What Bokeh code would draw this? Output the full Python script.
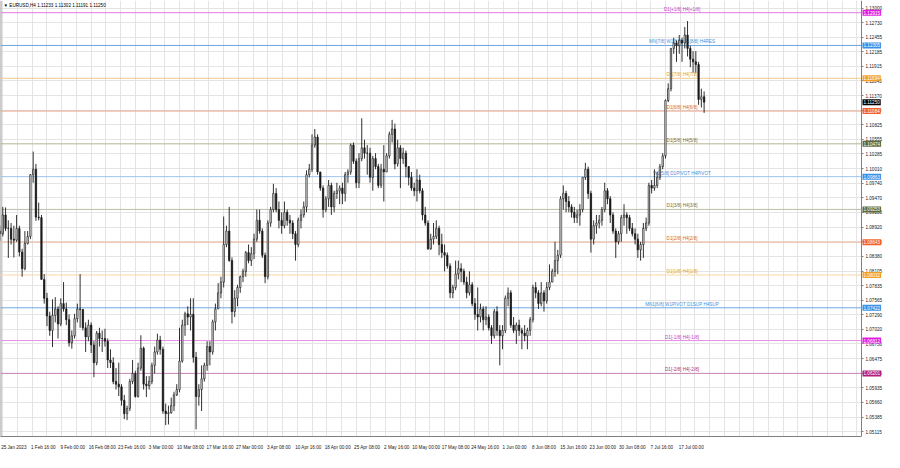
from bokeh.plotting import figure
from bokeh.models import Range1d, FixedTicker, Span, Label, ColumnDataSource, PrintfTickFormatter
from bokeh.core.properties import value
from bokeh.embed import file_html
from bokeh.resources import INLINE

# ---------------- data ----------------
symbol = "EURUSD,H4"
last_bar = [1.11233, 1.11302, 1.11191, 1.11250]   # O H L C of the last H4 bar

# half-day candles (two per trading day, 25 Jan - 21 Jul 2023), in pips above 1.0000
opens = [885,880, 915,890, 890,870, 868,890, 846,815,
         862,875, 990,1000, 911,910, 795,760, 727,700,
         728,740, 712,750, 740,720, 677,690, 722,740,
         739,705, 688,710, 673,640, 695,685, 685,680,
         645,640, 605,600, 595,570, 545,555, 605,620,
         577,630, 667,600, 597,605, 635,660, 682,665,
         550,545, 547,560, 580,590, 643,710, 731,725,
         730,650, 577,590, 610,635, 670,660, 716,740,
         770,790, 860,885, 830,735, 760,780, 800,810,
         845,830, 843,870, 905,885, 840,800, 900,925,
         955,925, 905,895, 920,905, 900,880, 860,905,
         915,930, 990,1000, 1045,1060, 995,965, 925,945,
         970,930, 955,960, 965,955, 990,995, 1045,1015,
         975,1020, 1040,1030, 1030,985, 1020,1005, 970,1000,
         995,1025, 1065,1075, 1010,1040, 1020,1030, 1005,985,
         965,960, 980,960, 915,900, 852,870, 875,890,
         860,845, 840,820, 770,780, 805,815, 810,790,
         770,785, 750,730, 725,740, 720,725, 705,690,
         735,700, 690,700, 760,770, 710,700, 710,700,
         695,690, 700,720, 780,770, 750,770, 755,780,
         790,810, 830,840, 945,955, 940,930, 920,910,
         915,925, 985,1000, 955,870, 895,900, 905,925,
         960,945, 915,885, 865,880, 910,915, 910,890,
         880,870, 850,860, 890,900, 970,965, 970,985,
         1005,1025, 1128,1150, 1225,1235, 1230,1240, 1235,1250,
         1225,1205, 1200,1195, 1130,1135]
highs = [895,930, 929,905, 900,895, 915,895, 852,885,
         885,991, 1033,1010, 938,915, 805,770, 735,758,
         762,745, 760,790, 752,730, 700,731, 750,805,
         740,715, 720,715, 680,699, 705,700, 703,685,
         665,650, 630,640, 600,580, 560,610, 645,625,
         640,691, 670,615, 615,640, 670,694, 690,670,
         564,560, 575,586, 600,705, 720,735, 745,760,
         760,660, 600,635, 640,680, 680,720, 750,788,
         800,912, 895,930, 836,775, 785,802, 815,848,
         860,855, 880,925, 925,890, 845,905, 930,973,
         965,940, 920,940, 925,915, 905,885, 910,925,
         940,998, 1010,1065, 1075,1065, 995,970, 950,980,
         975,960, 975,970, 975,995, 1000,1048, 1050,1020,
         1030,1095, 1055,1045, 1040,1025, 1030,1010, 1010,1045,
         1030,1070, 1092,1085, 1055,1045, 1040,1035, 1005,995,
         975,1000, 990,965, 930,905, 880,900, 905,895,
         880,860, 845,825, 785,830, 830,825, 815,800,
         810,790, 760,780, 750,745, 745,730, 710,740,
         745,710, 710,765, 780,775, 725,715, 720,705,
         710,705, 725,785, 790,775, 790,775, 790,823,
         815,865, 850,950, 970,960, 950,935, 930,925,
         935,985, 1012,1005, 960,905, 915,915, 930,975,
         965,950, 920,890, 885,915, 935,920, 915,900,
         890,880, 865,900, 910,975, 980,1000, 995,1010,
         1030,1130, 1160,1225, 1245,1240, 1250,1245, 1265,1276,
         1230,1220, 1220,1200, 1150,1145]
lows = [867,875, 885,835, 860,836, 865,838, 800,812,
        860,870, 975,904, 905,795, 750,708, 690,669,
        715,685, 708,735, 710,670, 666,685, 715,705,
        700,660, 680,658, 613,635, 670,660, 670,630,
        630,600, 590,578, 560,535, 533,550, 600,575,
        575,625, 590,576, 590,600, 620,655, 655,545,
        524,525, 545,550, 578,585, 640,690, 710,700,
        640,516, 560,550, 605,625, 635,655, 700,740,
        760,780, 855,828, 713,725, 745,770, 790,800,
        825,820, 833,865, 880,835, 788,795, 893,920,
        920,890, 880,890, 895,880, 870,830, 855,890,
        910,920, 985,995, 1040,990, 960,910, 920,930,
        915,920, 945,935, 935,940, 975,990, 1010,965,
        965,1015, 1020,990, 975,960, 1000,965, 965,940,
        995,1020, 1050,1000, 1005,965, 1010,985, 970,960,
        950,940, 955,905, 895,850, 850,860, 870,840,
        835,810, 815,760, 760,775, 795,790, 785,760,
        765,745, 720,700, 715,700, 710,700, 675,685,
        690,635, 665,695, 745,705, 695,675, 690,665,
        680,665, 690,715, 760,740, 745,735, 750,775,
        790,800, 805,835, 925,920, 920,910, 900,900,
        895,920, 980,945, 845,860, 880,890, 895,920,
        935,900, 880,835, 860,865, 895,880, 885,875,
        860,835, 830,835, 885,895, 955,960, 965,980,
        1000,1020, 1125,1145, 1215,1200, 1215,1200, 1225,1210,
        1190,1180, 1180,1120, 1115,1105]
closes = [880,915, 890,890, 870,868, 890,846, 815,862,
          875,990, 1000,911, 910,795, 760,727, 700,728,
          740,712, 750,740, 720,677, 690,722, 740,739,
          705,688, 710,673, 640,695, 685,685, 680,645,
          640,605, 600,595, 570,545, 555,605, 620,577,
          630,667, 600,597, 605,635, 660,682, 665,550,
          545,547, 560,580, 590,643, 710,731, 725,730,
          650,577, 590,610, 635,670, 660,716, 740,770,
          790,860, 885,830, 735,760, 780,800, 810,845,
          830,843, 870,905, 885,840, 800,900, 925,955,
          925,905, 895,920, 905,900, 880,860, 905,915,
          930,990, 1000,1045, 1060,995, 965,925, 945,970,
          930,955, 960,965, 955,990, 995,1045, 1015,975,
          1020,1040, 1030,1030, 985,1020, 1005,970, 1000,995,
          1025,1065, 1075,1010, 1040,1020, 1030,1005, 985,965,
          960,980, 960,915, 900,852, 870,875, 890,860,
          845,840, 820,770, 780,805, 815,810, 790,770,
          785,750, 730,725, 740,720, 725,705, 690,735,
          700,690, 700,760, 770,710, 700,710, 700,695,
          690,700, 720,780, 770,750, 770,755, 780,790,
          810,830, 840,945, 955,940, 930,920, 910,915,
          925,985, 1000,955, 870,895, 900,905, 925,960,
          945,915, 885,865, 880,910, 915,910, 890,880,
          870,850, 860,890, 900,970, 965,970, 985,1005,
          1025,1128, 1150,1225, 1235,1230, 1240,1235, 1250,1225,
          1205,1200, 1195,1130, 1135,1125]

# Murrey-math style levels drawn on the chart
levels = [1.12915, 1.12305, 1.11694, 1.11084, 1.10474, 1.09863,
          1.09253, 1.08643, 1.08032, 1.07422, 1.06812, 1.06201]
level_names = ["D1[+1/8] H4[+1/8]", "MN[7/8] W1[6/8] D1[8/8] H4RES", "D1[7/8] H4[7/8]",
               "D1[6/8] H4[6/8]", "D1[5/8] H4[5/8]", "W1[5/8] D1PIVOT H4PIVOT",
               "D1[3/8] H4[3/8]", "D1[2/8] H4[2/8]", "D1[1/8] H4[1/8]",
               "MN1[6/8] W1PIVOT D1SUP H4SUP", "D1[-1/8] H4[-1/8]", "D1[-2/8] H4[-2/8]"]

# axis tick values / labels
y_ticks = [1.13000, 1.12730, 1.12455, 1.12185, 1.11915, 1.11645, 1.11370, 1.11100,
           1.10825, 1.10555, 1.10285, 1.10010, 1.09740, 1.09470, 1.09200, 1.08920,
           1.08650, 1.08380, 1.08105, 1.07835, 1.07565, 1.07290, 1.07020, 1.06750,
           1.06475, 1.06205, 1.05935, 1.05660, 1.05385, 1.05115]
x_labels = ["25 Jan 2023", "1 Feb 16:00", "9 Feb 00:00", "16 Feb 08:00", "23 Feb 16:00",
            "3 Mar 00:00", "10 Mar 08:00", "17 Mar 16:00", "27 Mar 00:00", "3 Apr 08:00",
            "10 Apr 16:00", "18 Apr 00:00", "25 Apr 08:00", "2 May 16:00", "10 May 00:00",
            "17 May 08:00", "24 May 16:00", "1 Jun 00:00", "8 Jun 08:00", "15 Jun 16:00",
            "23 Jun 00:00", "30 Jun 08:00", "7 Jul 16:00", "17 Jul 00:00"]

# ---------------- styles ----------------
line_colors = ["#e27ae2", "#6aa6e2", "#f3c98e", "#eaa48a", "#b4b496", "#9cc4ee",
               "#bcbca6", "#f0b496", "#f7d7a4", "#6fa8e2", "#e68fe6", "#c886b4"]
text_colors = ["#c040c8", "#4a90d8", "#e0a040", "#d8643a", "#70704c", "#4a90d8",
               "#70704c", "#d8643a", "#e0a040", "#4a90d8", "#c040c8", "#a8307a"]
tag_colors = ["#e01ee0", "#3a8fe6", "#f2a024", "#f2602a", "#5c6a3c", "#3a8fe6",
              "#5c6a3c", "#f2602a", "#f2a024", "#3a8fe6", "#e01ee0", "#b0207a"]
FONT = "Liberation Sans"
FS = "4.6px"
BARS_PER_LABEL = 32
BARS_PER_GRID = 16
LEVEL_LABEL_X = 740          # bar index where level captions are centred
X_START, AXIS_X, X_END = -0.5, 935, 960   # chart area ends at AXIS_X, price scale beyond
Y_START, Y_END = 1.05026, 1.13142

# ---------------- build ----------------
n = len(opens)
xs = [6 * (i // 2) - 1 + 3 * (i % 2) for i in range(n)]   # centre bar index of each half-day group
o = [1 + v / 10000 for v in opens]
h = [1 + v / 10000 for v in highs]
l = [1 + v / 10000 for v in lows]
c = [1 + v / 10000 for v in closes]
src = ColumnDataSource(dict(
    x=xs, o=o, h=h, l=l, c=c,
    top=[max(a, b) for a, b in zip(o, c)],
    bottom=[min(a, b) for a, b in zip(o, c)],
    fill=["#ffffff" if b >= a else "#1a1a1a" for a, b in zip(o, c)],
))

p = figure(width=884, height=452, output_backend="svg", toolbar_location=None,
           x_range=Range1d(X_START, X_END), y_range=Range1d(Y_START, Y_END),
           y_axis_location="right", min_border_left=0, min_border_right=0,
           min_border_top=0, min_border_bottom=11)
p.background_fill_color = "#ffffff"
p.border_fill_color = "#ffffff"
p.outline_line_color = None

# grid
p.xgrid.ticker = FixedTicker(ticks=[BARS_PER_GRID * k + 2 for k in range(59)])
p.xgrid.grid_line_color = "#e4e4e4"
p.ygrid.grid_line_color = "#e4e4e4"

# right price axis, drawn at the right edge of the chart area
p.yaxis.fixed_location = AXIS_X
p.yaxis.ticker = FixedTicker(ticks=y_ticks)
p.yaxis.formatter = PrintfTickFormatter(format="%.5f")
p.yaxis.major_label_text_font = FONT
p.yaxis.major_label_text_font_size = FS
p.yaxis.major_label_text_color = "#202020"
p.yaxis.major_tick_out = 2
p.yaxis.major_tick_in = 0
p.yaxis.minor_tick_line_color = None
p.yaxis.major_tick_line_color = "#808080"
p.yaxis.axis_line_color = "#808080"
p.yaxis.major_label_standoff = 2

# bottom time axis (labels start at their bar, as in the terminal)
label_pos = [BARS_PER_LABEL * k + 14 for k in range(len(x_labels))]
p.xaxis.ticker = FixedTicker(ticks=label_pos)
p.xaxis.bounds = (X_START, AXIS_X)
p.xaxis.major_label_overrides = {pos: txt for pos, txt in zip(label_pos, x_labels)}
p.xaxis.major_label_text_font = FONT
p.xaxis.major_label_text_font_size = FS
p.xaxis.major_label_text_color = "#202020"
p.xaxis.major_tick_line_color = None
p.xaxis.minor_tick_line_color = None
p.xaxis.axis_line_color = "#808080"
p.xaxis.major_label_standoff = 2

# left border
p.add_layout(Span(location=X_START, dimension="height", line_color="#9a9a9a", line_width=2, level="underlay"))

# level lines (behind the candles)
for lv, lc in zip(levels, line_colors):
    p.add_layout(Span(location=lv, dimension="width", line_color=lc, line_width=1, level="underlay"))

# blank price-scale strip (hides grid and level lines right of the chart area)
p.quad(left=[AXIS_X], right=[X_END], bottom=[Y_START], top=[Y_END],
       fill_color="#ffffff", line_color=None)

p.text(x=[LEVEL_LABEL_X] * len(levels), y=levels, text=level_names, text_color=text_colors,
       text_align="center", text_baseline="bottom", text_font=value(FONT),
       text_font_size=FS, y_offset=-1)

# candles
p.segment(x0="x", y0="l", x1="x", y1="h", source=src, line_color="#1a1a1a", line_width=0.9)
p.vbar(x="x", width=1.5, top="top", bottom="bottom", source=src,
       fill_color="fill", line_color="#1a1a1a", line_width=0.7)

# price tags on the right scale
for lv, tc in zip(levels, tag_colors):
    p.add_layout(Label(x=AXIS_X, y=lv, x_offset=1, text=f"{lv:.5f}", text_font=FONT,
                       text_font_size=FS, text_color="#ffffff", text_align="left",
                       text_baseline="middle", background_fill_color=tc, padding=1))
p.add_layout(Label(x=AXIS_X, y=last_bar[3], x_offset=1, text=f"{last_bar[3]:.5f}", text_font=FONT,
                   text_font_size=FS, text_color="#ffffff", text_align="left",
                   text_baseline="middle", background_fill_color="#000000", padding=1))

# symbol header
header = "\u25BC " + symbol + "  " + " ".join(f"{v:.5f}" for v in last_bar)
p.add_layout(Label(x=X_START, y=Y_END, x_offset=3, y_offset=-2, text=header, text_font=FONT,
                   text_font_size=FS, text_color="#000000", text_baseline="top", text_align="left"))

open("out.html", "w").write(file_html(p, INLINE))
